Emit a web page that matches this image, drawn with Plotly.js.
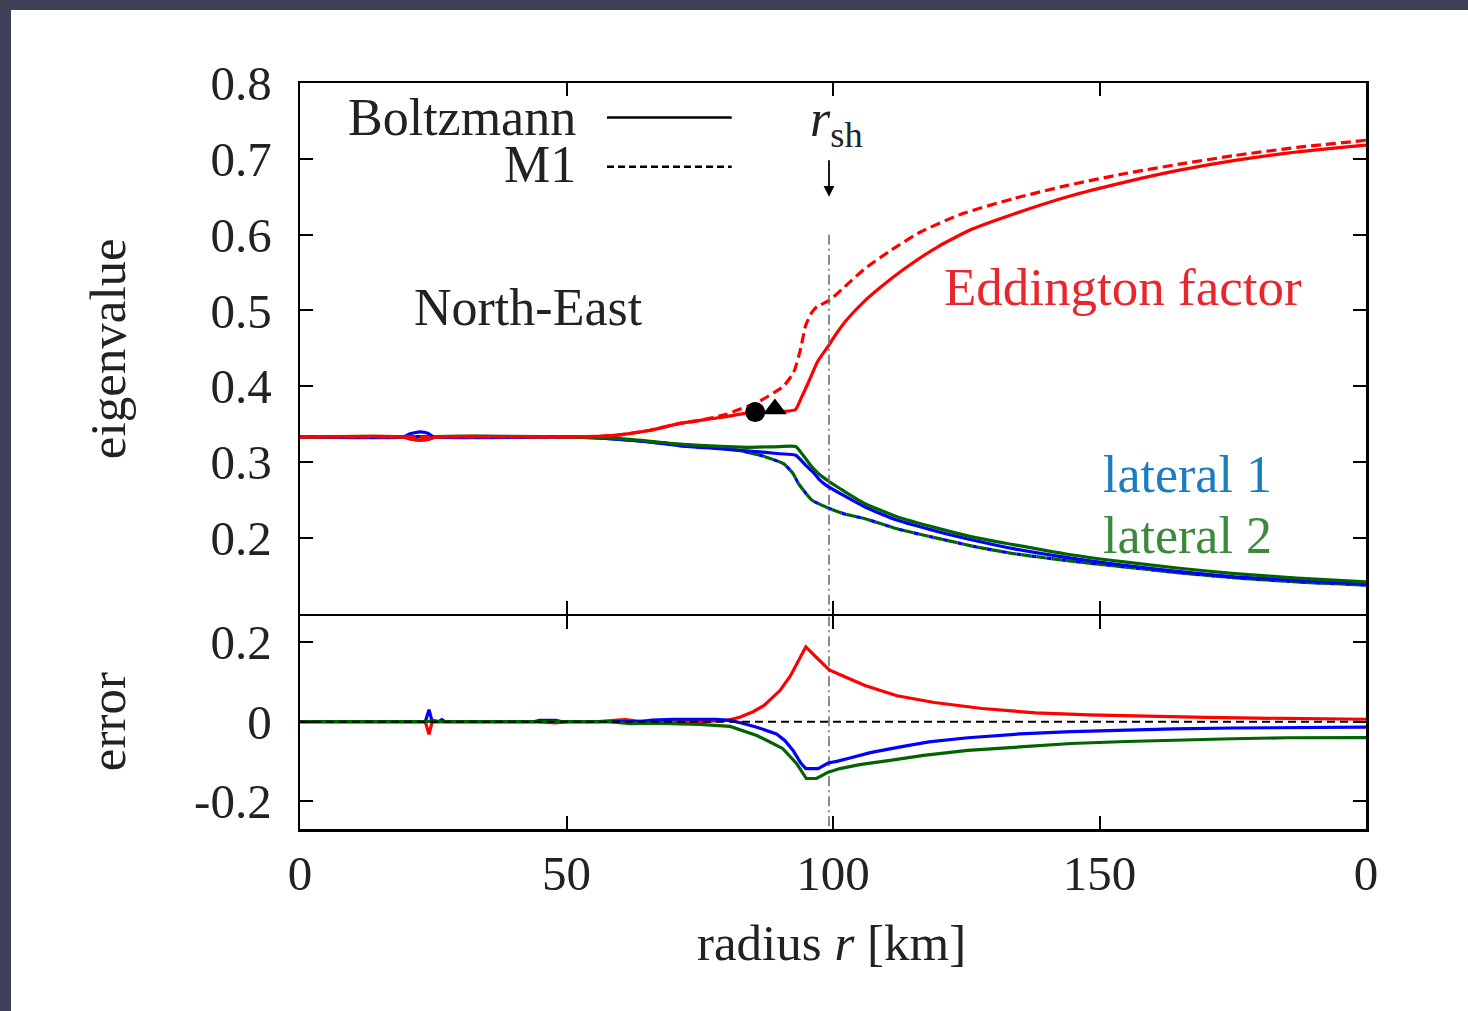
<!DOCTYPE html>
<html>
<head>
<meta charset="utf-8">
<script src="https://cdn.plot.ly/plotly-3.0.1.min.js"></script>
<style>
  html, body { margin: 0; padding: 0; background: #ffffff; }
  #chart { position: absolute; left: 0; top: 0; width: 1468px; height: 1011px; }
  .bar { position: absolute; background: #3f4159; }
</style>
</head>
<body>
<div id="chart"></div>
<div class="bar" style="left:0;top:0;width:1468px;height:10px;"></div>
<div class="bar" style="left:0;top:0;width:11px;height:1011px;"></div>
<script>
// ---------- data ----------
// Eddington factor, Boltzmann (solid) and M1 (dashed)
const rEddB = [0, 19, 20.5, 22.5, 24, 25.5, 50, 56, 60, 65.7, 71.3, 75, 80, 83.8, 88, 92.9, 94, 95.5, 97, 97.6, 99.1, 100.5, 102.5, 106, 109.5, 114, 119.9, 126, 133.8, 144, 154.6, 165, 175.4, 187, 200];
const eddB  = [0.3333,0.3333,0.331,0.329,0.330,0.3333,0.3333,0.334,0.336,0.342,0.351,0.355,0.36,0.3645,0.366,0.369,0.384,0.407,0.431,0.438,0.453,0.468,0.487,0.513,0.534,0.558,0.585,0.607,0.627,0.65,0.669,0.685,0.698,0.709,0.718];
const rEddM = [0, 50, 56, 60, 65.7, 71.3, 75, 80, 82.6, 85, 86.9, 89, 90.7, 92.6, 93.8, 94.9, 96, 97, 99.4, 102, 106, 111, 116.4, 124, 133.8, 144, 154.6, 165, 175.4, 187, 200];
const eddM  = [0.3333,0.3333,0.334,0.336,0.342,0.351,0.355,0.363,0.37,0.376,0.383,0.392,0.40,0.418,0.4456,0.4807,0.497,0.505,0.5136,0.530,0.5553,0.580,0.6035,0.627,0.6474,0.665,0.6803,0.693,0.7044,0.715,0.7245];
// lateral eigenvalues, Boltzmann
const rLat1B = [0, 19.5, 20.5, 22.5, 24, 25, 50, 56, 60, 65, 71.3, 78, 83.8, 90, 93, 95, 96.3, 97.3, 98.8, 102, 106, 112, 119.9, 127, 133.8, 144, 154.6, 165, 175.4, 187, 200];
const lat1B  = [0.3333,0.3333,0.337,0.340,0.338,0.3335,0.3333,0.332,0.33,0.327,0.3215,0.318,0.315,0.311,0.309,0.295,0.2865,0.278,0.269,0.256,0.2408,0.2235,0.2079,0.196,0.1859,0.174,0.164,0.1555,0.1487,0.144,0.1395];
const rLat2B = [0, 19.5, 20.5, 22.5, 24, 25.5, 50, 56, 60, 65, 71.3, 78, 83.8, 90, 93, 94.5, 96, 97.3, 99.4, 102, 106, 112, 119.9, 127, 133.8, 144, 154.6, 165, 175.4, 187, 200];
const lat2B  = [0.3333,0.3333,0.331,0.329,0.330,0.3333,0.3333,0.332,0.331,0.328,0.3237,0.321,0.3195,0.3205,0.3205,0.308,0.294,0.2846,0.2737,0.262,0.2452,0.228,0.2123,0.2,0.1912,0.1785,0.1684,0.16,0.153,0.147,0.142];
// lateral eigenvalues, M1 (lateral 1 and lateral 2 coincide)
const rLatM = [0, 50, 56, 60, 65, 70, 77, 82.6, 86.9, 90.7, 92.5, 93.5, 95, 96, 97.3, 99.4, 102, 106, 112, 119.9, 127, 133.8, 144, 154.6, 165, 175.4, 187, 200];
const latM  = [0.3333,0.3333,0.332,0.33,0.327,0.324,0.32,0.315,0.308,0.298,0.285,0.272,0.258,0.25,0.2452,0.2386,0.232,0.2254,0.212,0.1991,0.188,0.1794,0.17,0.1618,0.154,0.1474,0.142,0.1378];
// special points
const ptR = [85.4, 89.1];
const ptV = [0.366, 0.370];
const ptSymbols = ['circle', 'triangle-up'];
const ptSizes = [20, 21];
// shock radius
const rsh = 99.25;
// errors
const rErrE = [0, 23.5, 24.2, 24.8, 44, 46, 48, 50, 56, 59, 61, 63, 66, 75, 80, 82.5, 85, 87, 90, 92, 93.2, 94.9, 97, 99.3, 102, 106, 112, 119, 128, 138, 148, 158, 170, 185, 200];
const errE  = [0, 0, -0.032, 0, 0, -0.002, -0.003, 0, 0, 0.003, 0.005, 0.002, 0, 0, 0.003, 0.011, 0.025, 0.04, 0.0775, 0.115, 0.145, 0.188, 0.16, 0.13, 0.114, 0.091, 0.065, 0.048, 0.033, 0.022, 0.017, 0.0135, 0.0105, 0.008, 0.006];
const rErrL1 = [0, 23.5, 24.2, 24.8, 26, 26.6, 27.2, 44, 45, 48, 49, 64, 66, 70, 78, 80.7, 83, 85.7, 89.4, 91, 92.5, 94, 94.9, 97.2, 99.1, 100.7, 103, 107, 112.4, 118, 125.3, 135, 144.7, 155, 164, 175, 185, 200];
const errL1  = [0, 0, 0.03, 0, 0, 0.005, 0, 0, 0.003, 0.003, 0, 0, 0.004, 0.006, 0.006, 0.003, -0.004, -0.014, -0.031, -0.048, -0.0725, -0.105, -0.118, -0.118, -0.104, -0.1, -0.092, -0.078, -0.064, -0.051, -0.0405, -0.031, -0.025, -0.021, -0.018, -0.016, -0.015, -0.014];
const rErrL2 = [0, 24, 25, 26, 58, 60, 62, 66, 70, 75, 80.7, 85.7, 88, 90.6, 93.2, 95, 96.9, 99.1, 101.3, 105, 110.4, 117, 125.3, 135, 144.7, 155, 164, 175, 185, 200];
const errL2  = [0, 0, 0.003, 0, 0, -0.003, -0.005, -0.004, -0.006, -0.007, -0.012, -0.035, -0.05, -0.068, -0.106, -0.143, -0.143, -0.127, -0.118, -0.108, -0.098, -0.085, -0.0725, -0.063, -0.055, -0.05, -0.0465, -0.043, -0.0405, -0.04];
// axes
const xTickVals = [0, 50, 100, 150, 200];
const xTickText = ['0', '50', '100', '150', '0'];
const yTopTickVals = [0.2, 0.3, 0.4, 0.5, 0.6, 0.7, 0.8];
const yTopTickText = ['0.2', '0.3', '0.4', '0.5', '0.6', '0.7', '0.8'];
const yBotTickVals = [-0.2, 0, 0.2];
const yBotTickText = ['-0.2', '0', '0.2'];

// ---------- styling ----------
const RED = '#ff0000', BLUE = '#0000ff', GREEN = '#006400';
const FONT = 'Liberation Serif, Times New Roman, serif';
const TXT = '#222222';
const LW = 3.2;
const SM = {shape: 'spline', smoothing: 0.5};

const traces = [
  // top panel
  {x: rLatM, y: latM, mode: 'lines', line: Object.assign({color: BLUE, width: LW, dash: '0px,10px,5px,0px'}, SM), xaxis: 'x', yaxis: 'y'},
  {x: rLatM, y: latM, mode: 'lines', line: Object.assign({color: GREEN, width: LW, dash: '10px,5px'}, SM), xaxis: 'x', yaxis: 'y'},
  {x: rLat1B, y: lat1B, mode: 'lines', line: Object.assign({color: BLUE, width: LW}, SM), xaxis: 'x', yaxis: 'y'},
  {x: rLat2B, y: lat2B, mode: 'lines', line: Object.assign({color: GREEN, width: LW}, SM), xaxis: 'x', yaxis: 'y'},
  {x: rEddM, y: eddM, mode: 'lines', line: Object.assign({color: RED, width: LW, dash: '10px,5px'}, SM), xaxis: 'x', yaxis: 'y'},
  {x: rEddB, y: eddB, mode: 'lines', line: Object.assign({color: RED, width: LW}, SM), xaxis: 'x', yaxis: 'y'},
  {x: [rsh, rsh], y: [0.6, 0.1], mode: 'lines', line: {color: '#6e6e6e', width: 1.6, dash: '10px,4px,2px,4px'}, xaxis: 'x', yaxis: 'y'},
  {x: ptR, y: ptV, mode: 'markers', marker: {symbol: ptSymbols, size: ptSizes, color: '#000000', opacity: 1, line: {width: 0}}, xaxis: 'x', yaxis: 'y'},
  // bottom panel
  {x: [rsh, rsh], y: [0.265, -0.27], mode: 'lines', line: {color: '#6e6e6e', width: 1.6, dash: '10px,4px,2px,4px'}, xaxis: 'x2', yaxis: 'y2'},
  {x: rErrE, y: errE, mode: 'lines', line: {color: RED, width: LW}, xaxis: 'x2', yaxis: 'y2'},
  {x: rErrL1, y: errL1, mode: 'lines', line: {color: BLUE, width: LW}, xaxis: 'x2', yaxis: 'y2'},
  {x: rErrL2, y: errL2, mode: 'lines', line: {color: GREEN, width: LW}, xaxis: 'x2', yaxis: 'y2'},
  {x: [0, 200], y: [0, 0], mode: 'lines', line: {color: '#000000', width: 2, dash: '8px,5px'}, xaxis: 'x2', yaxis: 'y2'}
];

const axisCommon = {
  showline: true, linecolor: '#000000', linewidth: 2.5, mirror: 'allticks',
  ticks: 'inside', ticklen: 13, tickwidth: 2, tickcolor: '#000000',
  showgrid: false, zeroline: false, fixedrange: true,
  tickfont: {family: FONT, size: 49, color: TXT}
};

const splitFrac = 214 / 746;
const halfLine = 1.25 / 746;

const layout = {
  width: 1468, height: 1011,
  margin: {l: 300, r: 102, t: 83, b: 182},
  paper_bgcolor: '#ffffff', plot_bgcolor: '#ffffff',
  showlegend: false,
  xaxis: Object.assign({}, axisCommon, {range: [0, 200], tickvals: xTickVals, ticktext: xTickText, showticklabels: false, anchor: 'y'}),
  yaxis: Object.assign({}, axisCommon, {range: [0.1, 0.8], domain: [splitFrac + halfLine, 1], tickvals: yTopTickVals, ticktext: yTopTickText, anchor: 'x', ticklabelstandoff: 16}),
  xaxis2: Object.assign({}, axisCommon, {range: [0, 200], tickvals: xTickVals, ticktext: xTickText, anchor: 'y2', ticklabelstandoff: 0}),
  yaxis2: Object.assign({}, axisCommon, {range: [-0.27, 0.265], domain: [0, splitFrac - halfLine], tickvals: yBotTickVals, ticktext: yBotTickText, anchor: 'x2', ticklabelstandoff: 16}),
  shapes: [
    {type: 'line', xref: 'x', yref: 'y', x0: 57.6, x1: 81.0, y0: 0.7545, y1: 0.7545, line: {color: '#000000', width: 2.5}},
    {type: 'line', xref: 'x', yref: 'y', x0: 57.6, x1: 81.0, y0: 0.6895, y1: 0.6895, line: {color: '#000000', width: 2.5, dash: '7px,4px'}}
  ],
  annotations: [
    {xref: 'x', yref: 'y', x: 52.2, y: 0.754, text: 'Boltzmann', showarrow: false, xanchor: 'right', yanchor: 'middle', font: {family: FONT, size: 52, color: TXT}},
    {xref: 'x', yref: 'y', x: 52.2, y: 0.692, text: 'M1', showarrow: false, xanchor: 'right', yanchor: 'middle', font: {family: FONT, size: 52, color: TXT}},
    {xref: 'x', yref: 'y', x: 42.8, y: 0.504, text: 'North-East', showarrow: false, xanchor: 'center', yanchor: 'middle', font: {family: FONT, size: 52, color: TXT}},
    {xref: 'x', yref: 'y', x: 154.4, y: 0.5316, text: 'Eddington factor', showarrow: false, xanchor: 'center', yanchor: 'middle', font: {family: FONT, size: 53, color: '#e8262d'}},
    {xref: 'x', yref: 'y', x: 166.6, y: 0.284, text: 'lateral 1', showarrow: false, xanchor: 'center', yanchor: 'middle', font: {family: FONT, size: 52, color: '#1a7cc1'}},
    {xref: 'x', yref: 'y', x: 166.6, y: 0.2026, text: 'lateral 2', showarrow: false, xanchor: 'center', yanchor: 'middle', font: {family: FONT, size: 52, color: '#3b8a3b'}},
    {xref: 'x', yref: 'y', x: 100.6, y: 0.748, text: '<i>r</i><sub>sh</sub>', showarrow: false, xanchor: 'center', yanchor: 'middle', font: {family: FONT, size: 52, color: TXT}},
    {xref: 'x', yref: 'y', x: rsh, y: 0.65, text: '', showarrow: true, ax: 0, ay: -38, arrowhead: 2, arrowsize: 1.2, arrowwidth: 1.8, arrowcolor: '#000000'},
    {xref: 'paper', yref: 'paper', x: -0.18, y: 0.6434, text: 'eigenvalue', textangle: -90, showarrow: false, xanchor: 'center', yanchor: 'middle', font: {family: FONT, size: 51, color: TXT}},
    {xref: 'paper', yref: 'paper', x: -0.18, y: 0.1434, text: 'error', textangle: -90, showarrow: false, xanchor: 'center', yanchor: 'middle', font: {family: FONT, size: 51, color: TXT}},
    {xref: 'paper', yref: 'paper', x: 0.4985, y: -0.1528, text: 'radius <i>r</i> [km]', showarrow: false, xanchor: 'center', yanchor: 'middle', font: {family: FONT, size: 51, color: TXT}}
  ]
};

Plotly.newPlot('chart', traces, layout, {staticPlot: true, displayModeBar: false});
</script>
</body>
</html>
